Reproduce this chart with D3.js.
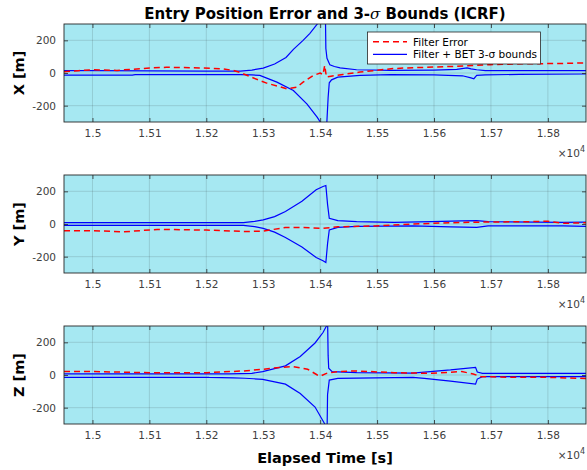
<!DOCTYPE html>
<html>
<head>
<meta charset="utf-8">
<script src="https://cdn.jsdelivr.net/npm/d3@7"></script>
<style>
  html, body { margin: 0; padding: 0; background: #fff; }
  svg { display: block; }
  text { font-family: "DejaVu Sans", Verdana, sans-serif; }
</style>
</head>
<body>
<svg id="chart" width="587" height="470"></svg>
<script>
// ---------------- DATA ----------------
const titleText = ["Entry Position Error and 3-", "σ", " Bounds (ICRF)"];
const panelLabels = ["X [m]", "Y [m]", "Z [m]"];
const xLabelText = "Elapsed Time [s]";
const legendLabels = ["Filter Error", "Filter + BET 3-σ bounds"];
const xTicks = [15000, 15100, 15200, 15300, 15400, 15500, 15600, 15700, 15800];
const xTickLabels = ["1.5", "1.51", "1.52", "1.53", "1.54", "1.55", "1.56", "1.57", "1.58"];
const yTicks = [-200, 0, 200];
const yTickLabels = ["-200", "0", "200"];

// X panel
const xUpperT = [14950, 15000, 15100, 15200, 15260, 15280, 15300, 15320, 15340, 15353, 15370, 15382, 15395, 15405, 15409, 15410, 15412, 15417, 15425, 15435, 15464, 15523, 15600, 15640, 15658, 15665, 15675, 15690, 15750, 15867];
const xUpperV = [15, 14, 13, 12, 12, 18, 30, 55, 95, 145, 200, 243, 300, 380, 420, 150, 90, 50, 40, 31, 20, 16, 18, 22, 31, 25, 20, 15, 14, 14];
const xLowerT = [14950, 15000, 15070, 15075, 15200, 15260, 15280, 15294, 15324, 15353, 15377, 15395, 15402, 15410, 15414, 15416, 15420, 15431, 15470, 15523, 15600, 15650, 15665, 15670, 15675, 15690, 15750, 15867];
const xLowerV = [-13, -13, -13, -10, -10, -10, -12, -15, -56, -107, -190, -272, -310, -420, -150, -60, -42, -25, -14, -10, -12, -17, -30, -35, -15, -12, -8, -6];
const xErrT = [14950, 14975, 15000, 15043, 15101, 15130, 15189, 15230, 15247, 15259, 15283, 15306, 15330, 15341, 15359, 15370, 15388, 15400, 15405, 15408, 15411, 15419, 15440, 15470, 15528, 15552, 15640, 15699, 15757, 15816, 15867];
const xErrV = [8, 14, 20, 16, 31, 35, 31, 25, 16, 4, -31, -62, -85, -97, -87, -56, -15, 0, -10, 47, -25, -20, -9, 6, 27, 31, 41, 51, 56, 58, 62];

// Y panel
const yUpperT = [14950, 15000, 15100, 15200, 15265, 15285, 15300, 15320, 15339, 15368, 15393, 15405, 15410, 15413, 15416, 15431, 15464, 15530, 15596, 15649, 15675, 15695, 15827, 15867];
const yUpperV = [8, 8, 8, 8, 8, 16, 25, 45, 77, 139, 210, 230, 236, 120, 35, 21, 14, 10, 14, 19, 21, 14, 10, 12];
const yLowerT = [14950, 15000, 15100, 15200, 15265, 15285, 15300, 15320, 15339, 15368, 15393, 15405, 15410, 15413, 15416, 15431, 15464, 15563, 15629, 15675, 15695, 15827, 15867];
const yLowerV = [-8, -8, -8, -8, -8, -16, -27, -50, -83, -141, -205, -225, -236, -120, -37, -21, -14, -12, -17, -21, -12, -12, -15];
const yErrT = [14950, 15002, 15055, 15114, 15200, 15266, 15299, 15339, 15365, 15405, 15431, 15497, 15563, 15629, 15695, 15761, 15800, 15827, 15867];
const yErrV = [-41, -41, -48, -33, -37, -46, -44, -21, -21, -27, -17, -12, 0, 8, 12, 14, 17, 4, 8];

// Z panel
const zUpperT = [14950, 15100, 15240, 15280, 15299, 15339, 15365, 15391, 15405, 15411, 15413, 15414, 15415, 15421, 15464, 15563, 15583, 15629, 15673, 15676, 15685, 15867];
const zUpperV = [7, 7, 7, 10, 21, 56, 113, 196, 260, 299, 350, 120, 41, 21, 14, 12, 18, 31, 47, 18, 10, 10];
const zLowerT = [14950, 15100, 15200, 15205, 15248, 15268, 15283, 15299, 15339, 15365, 15391, 15408, 15412, 15413, 15416, 15431, 15464, 15563, 15583, 15629, 15673, 15676, 15685, 15867];
const zLowerV = [-14, -14, -14, -15, -18, -20, -23, -27, -56, -113, -196, -299, -380, -120, -31, -21, -19, -14, -21, -37, -56, -25, -10, -10];
const zErrT = [14950, 15002, 15101, 15200, 15266, 15299, 15332, 15352, 15378, 15395, 15401, 15411, 15431, 15464, 15530, 15596, 15649, 15669, 15682, 15728, 15794, 15867];
const zErrV = [21, 21, 14, 14, 25, 35, 47, 52, 35, 0, -6, 10, 21, 25, 14, 10, 21, 6, -10, -14, -14, -21];

const panels = [
  { label: panelLabels[0], up: [xUpperT, xUpperV], lo: [xLowerT, xLowerV], err: [xErrT, xErrV] },
  { label: panelLabels[1], up: [yUpperT, yUpperV], lo: [yLowerT, yLowerV], err: [yErrT, yErrV] },
  { label: panelLabels[2], up: [zUpperT, zUpperV], lo: [zLowerT, zLowerV], err: [zErrT, zErrV] }
];

// ---------------- LAYOUT ----------------
const left = 64, right = 586;
const panelTops = [24, 175, 326];
const panelH = 98;
const bg = "#a6e8f2";
const axisColor = "#262626";
const tickText = "#404040";

const svg = d3.select("#chart");
const x = d3.scaleLinear().domain([14950, 15867]).range([left, right]);

panels.forEach((p, i) => {
  const top = panelTops[i], bottom = top + panelH;
  const y = d3.scaleLinear().domain([-300, 300]).range([bottom, top]);
  const g = svg.append("g");

  g.append("rect").attr("x", left).attr("y", top).attr("width", right - left).attr("height", panelH).attr("fill", bg);

  // grid
  g.selectAll(".gx").data(xTicks).enter().append("line")
    .attr("x1", d => x(d)).attr("x2", d => x(d)).attr("y1", top).attr("y2", bottom)
    .attr("stroke", axisColor).attr("stroke-opacity", 0.18).attr("stroke-width", 0.8);
  g.selectAll(".gy").data(yTicks).enter().append("line")
    .attr("x1", left).attr("x2", right).attr("y1", d => y(d)).attr("y2", d => y(d))
    .attr("stroke", axisColor).attr("stroke-opacity", 0.18).attr("stroke-width", 0.8);

  const clipId = "clip" + i;
  svg.append("clipPath").attr("id", clipId).append("rect")
    .attr("x", left).attr("y", top).attr("width", right - left).attr("height", panelH);

  const line = d3.line().x(d => x(d[0])).y(d => y(d[1]));
  const zip = arr => arr[0].map((t, k) => [t, arr[1][k]]);
  const plot = g.append("g").attr("clip-path", `url(#${clipId})`);

  plot.append("path").datum(zip(p.up)).attr("d", line)
    .attr("fill", "none").attr("stroke", "#0000ff").attr("stroke-width", 1.2);
  plot.append("path").datum(zip(p.lo)).attr("d", line)
    .attr("fill", "none").attr("stroke", "#0000ff").attr("stroke-width", 1.2);
  plot.append("path").datum(zip(p.err)).attr("d", line)
    .attr("fill", "none").attr("stroke", "#ff0000").attr("stroke-width", 1.5)
    .attr("stroke-dasharray", "6,4");

  // axes (ticks inward) using d3 axes
  const tickLen = 4;
  const axB = g.append("g").attr("transform", `translate(0,${bottom})`)
    .call(d3.axisBottom(x).tickValues(xTicks).tickSize(-tickLen).tickPadding(8)
      .tickFormat((d, k) => xTickLabels[k]));
  const axT = g.append("g").attr("transform", `translate(0,${top})`)
    .call(d3.axisTop(x).tickValues(xTicks).tickSize(-tickLen).tickFormat(""));
  const axL = g.append("g").attr("transform", `translate(${left},0)`)
    .call(d3.axisLeft(y).tickValues(yTicks).tickSize(-tickLen).tickPadding(8)
      .tickFormat((d, k) => yTickLabels[k]));
  const axR = g.append("g").attr("transform", `translate(${right},0)`)
    .call(d3.axisRight(y).tickValues(yTicks).tickSize(-tickLen).tickFormat(""));
  [axB, axT, axL, axR].forEach(a => {
    a.select(".domain").remove();
    a.selectAll(".tick line").attr("stroke", axisColor).attr("stroke-width", 0.8);
    a.selectAll(".tick text").attr("fill", tickText).attr("font-size", 10.5)
      .attr("font-family", "'DejaVu Sans', Verdana, sans-serif");
  });

  // box
  g.append("rect").attr("x", left).attr("y", top).attr("width", right - left).attr("height", panelH)
    .attr("fill", "none").attr("stroke", axisColor).attr("stroke-width", 0.9);

  // exponent label
  const ex = g.append("text").attr("x", right - 1).attr("y", bottom + 35)
    .attr("text-anchor", "end").attr("fill", tickText).attr("font-size", 10.5);
  ex.append("tspan").text("×10");
  ex.append("tspan").attr("dy", -5).attr("font-size", 8).text("4");

  // y label
  g.append("text").attr("transform", `translate(24,${top + panelH / 2}) rotate(-90)`)
    .attr("text-anchor", "middle").attr("font-weight", "bold").attr("font-size", 14.5)
    .attr("fill", "#000").text(p.label);
});

// title
const tt = svg.append("text").attr("x", (left + right) / 2).attr("y", 19)
  .attr("text-anchor", "middle").attr("font-weight", "bold").attr("font-size", 15).attr("fill", "#000");
tt.append("tspan").text(titleText[0]);
tt.append("tspan").attr("font-style", "italic").attr("font-weight", "normal").attr("font-family", "'DejaVu Serif', serif").text(titleText[1]);
tt.append("tspan").text(titleText[2]);

// x label
svg.append("text").attr("x", (left + right) / 2).attr("y", 463)
  .attr("text-anchor", "middle").attr("font-weight", "bold").attr("font-size", 14.5).attr("fill", "#000")
  .text(xLabelText);

// legend
const lg = svg.append("g");
lg.append("rect").attr("x", 367.5).attr("y", 32).attr("width", 173).attr("height", 32)
  .attr("fill", "#fff").attr("stroke", axisColor).attr("stroke-width", 0.8);
const legItems = [
  { color: "#ff0000", dash: "6,4", w: 1.5, y: 41.7, label: legendLabels[0] },
  { color: "#0000ff", dash: null, w: 1.2, y: 54.3, label: legendLabels[1] }
];
legItems.forEach(it => {
  lg.append("line").attr("x1", 373).attr("x2", 407).attr("y1", it.y).attr("y2", it.y)
    .attr("stroke", it.color).attr("stroke-width", it.w).attr("stroke-dasharray", it.dash);
  const t = lg.append("text").attr("x", 413).attr("y", it.y + 4).attr("font-size", 10.5).attr("fill", "#000");
  t.text(it.label);
});
</script>
</body>
</html>
